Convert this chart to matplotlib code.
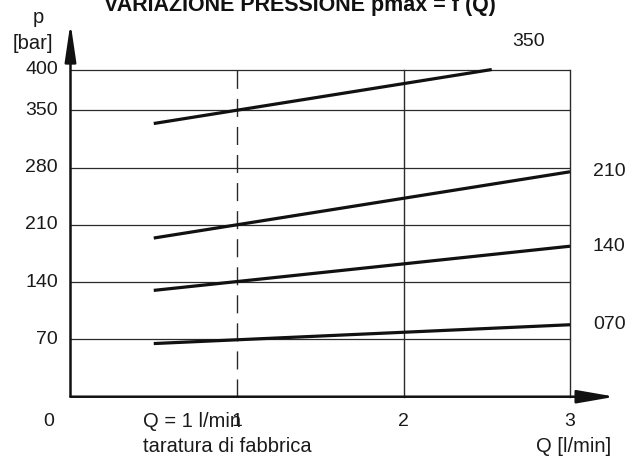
import matplotlib
matplotlib.use("Agg")
import matplotlib.pyplot as plt

plt.rcParams['font.family'] = ['Liberation Sans', 'DejaVu Sans']

# ---- data ----
y_ticks = [70, 140, 210, 280, 350, 400]
y_tick_labels = ["70", "140", "210", "280", "350", "400"]
x_ticks = [1, 2, 3]
x_tick_labels = ["1", "2", "3"]
series_names = ["350", "210", "140", "070"]
q_350 = [0.5, 2.53]
p_350 = [334, 400]
q_210 = [0.5, 3.0]
p_210 = [194, 275]
q_140 = [0.5, 3.0]
p_140 = [130, 184]
q_070 = [0.5, 3.0]
p_070 = [65, 88]

W, H = 641, 462
fig = plt.figure(figsize=(W / 100, H / 100), dpi=100)
ax = fig.add_axes([0, 0, 1, 1])
ax.set_axis_off()
ax.set_xlim(-0.4234, 3.4264)
ax.set_ylim(-79.8, 485.0)

grid_c = '#2a2a2a'
# horizontal grid lines
for yv in y_ticks:
    ax.plot([0, 3], [yv, yv], color=grid_c, lw=0.9, solid_capstyle='butt')
# vertical lines
ax.plot([1, 1], [0, 400], color=grid_c, lw=1.0, ls=(0, (13.0, 7.2)))
for xv in [2, 3]:
    ax.plot([xv, xv], [0, 400], color=grid_c, lw=1.0)

# axes with arrows
ax.annotate('', xy=(0, 457), xytext=(0, 0),
            arrowprops=dict(arrowstyle='-|>,head_length=23,head_width=3.4',
                            mutation_scale=1, lw=1.8, color='#111111',
                            shrinkA=0, shrinkB=0))
ax.annotate('', xy=(3.27, 0), xytext=(0, 0),
            arrowprops=dict(arrowstyle='-|>,head_length=23,head_width=4',
                            mutation_scale=1, lw=1.8, color='#111111',
                            shrinkA=0, shrinkB=0))

# data lines
for q, p in [(q_350, p_350), (q_210, p_210), (q_140, p_140), (q_070, p_070)]:
    ax.plot(q, p, color='#111111', lw=2.3, solid_capstyle='butt')

fs = 14
fsw = 14.5
tc = '#1a1a1a'
for yv, lab in zip(y_ticks, y_tick_labels):
    ax.text(-0.075, yv, lab, ha='right', va='center', fontsize=fs, color=tc)
ax.text(-0.129, -30.6, "0", ha='center', va='center', fontsize=fs, color=tc)
for xv, lab in zip(x_ticks, x_tick_labels):
    ax.text(xv, -30.6, lab, ha='center', va='center', fontsize=fs, color=tc)

ax.text(0.435, -30.6, "Q = 1 l/min", ha='left', va='center', fontsize=fsw, color=tc)
ax.text(0.435, -61, "taratura di fabbrica", ha='left', va='center', fontsize=fsw, color=tc)
ax.text(3.246, -61, "Q [l/min]", ha='right', va='center', fontsize=fsw, color=tc)
ax.text(-0.195, 463, "p", ha='center', va='center', fontsize=fsw, color=tc)
ax.text(-0.225, 432, "[bar]", ha='center', va='center', fontsize=fsw, color=tc)

# series labels
ax.text(2.748, 434, series_names[0], ha='center', va='center', fontsize=fs, color=tc)
for name, p in zip(series_names[1:], [p_210, p_140, p_070]):
    ax.text(3.138, p[-1], name, ha='left', va='center', fontsize=fs, color=tc)

fig.text(300 / W, 1 - 11 / H, "VARIAZIONE PRESSIONE pmax = f (Q)", ha='center',
         va='baseline', fontsize=15.5, fontweight='bold', color='#111111')

fig.savefig("out.png", dpi=100, facecolor='white')
